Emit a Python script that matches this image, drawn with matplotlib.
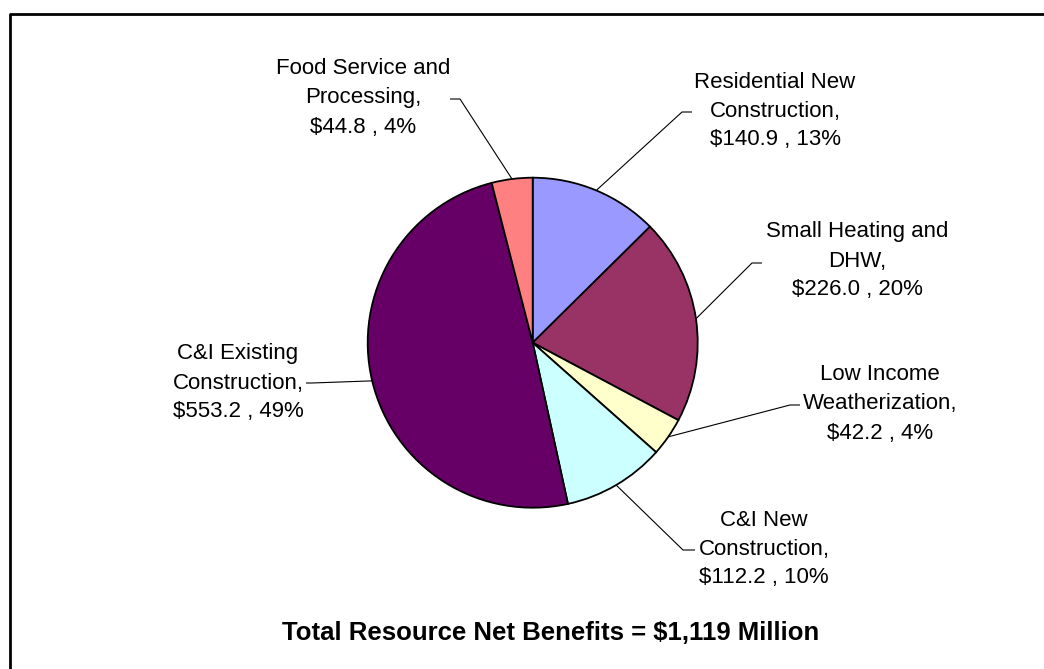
import numpy as np
import matplotlib
matplotlib.use("Agg")
import matplotlib.pyplot as plt

plt.rcParams['font.family'] = ['Liberation Sans', 'DejaVu Sans']

# program net benefits, $ million
programs = ["Residential New\nConstruction", "Small Heating and\nDHW",
            "Low Income\nWeatherization", "C&I New\nConstruction",
            "C&I Existing\nConstruction", "Food Service and\nProcessing"]
benefits = [140.9, 226.0, 42.2, 112.2, 553.2, 44.8]
colors = ["#9999FF", "#993366", "#FFFFCC", "#CCFFFF", "#660066", "#FF8080"]
title = "Total Resource Net Benefits = $1,119 Million"

W, H = 1044, 669
cx, cy, R = 532.7, H - 342.7, 165

# label centre and leader elbow for each slice (pixels from top-left)
label_pos = [(775, 111), (857, 261), (880, 404), (764, 549), (238, 383), (363, 98)]
elbows = [((692, 112), (682, 112)), ((762, 263), (752, 263)),
          ((800, 405), (790, 405)), ((695, 550), (683, 550)),
          ((306, 383), (312, 383)), ((450, 99), (460, 99))]

fig = plt.figure(figsize=(W / 100, H / 100), dpi=100)
ax = fig.add_axes([0, 0, 1, 1])
wedges, _ = ax.pie(benefits, colors=colors, startangle=90, counterclock=False,
                   center=(cx, cy), radius=R,
                   wedgeprops=dict(edgecolor="black", linewidth=1.3))
ax.set_xlim(0, W)
ax.set_ylim(0, H)
ax.set_aspect("auto")
ax.axis("off")

total = sum(benefits)
for w, name, val, (lx, ly), (e0, e1) in zip(wedges, programs, benefits, label_pos, elbows):
    ang = np.deg2rad((w.theta1 + w.theta2) / 2)
    px, py = cx + R * np.cos(ang), cy + R * np.sin(ang)
    ax.plot([e0[0], e1[0], px], [H - e0[1], H - e1[1], py],
            color="black", lw=0.8, solid_capstyle="butt")
    txt = f"{name},\n${val:.1f} , {val / total * 100:.0f}%"
    ax.text(lx, H - ly, txt, ha="center", va="center", fontsize=16,
            linespacing=1.5, color="black")

fig.text(551 / W, 1 - 633 / H, title, ha="center", va="center",
         fontsize=18.5, fontweight="bold")

# chart border, left and top edges
fig.add_artist(plt.Line2D([9.5 / W, 9.5 / W, 1], [0, 1 - 13.5 / H, 1 - 13.5 / H],
                          transform=fig.transFigure, color="black", lw=2))

fig.savefig("out.png", dpi=100, facecolor="white")
